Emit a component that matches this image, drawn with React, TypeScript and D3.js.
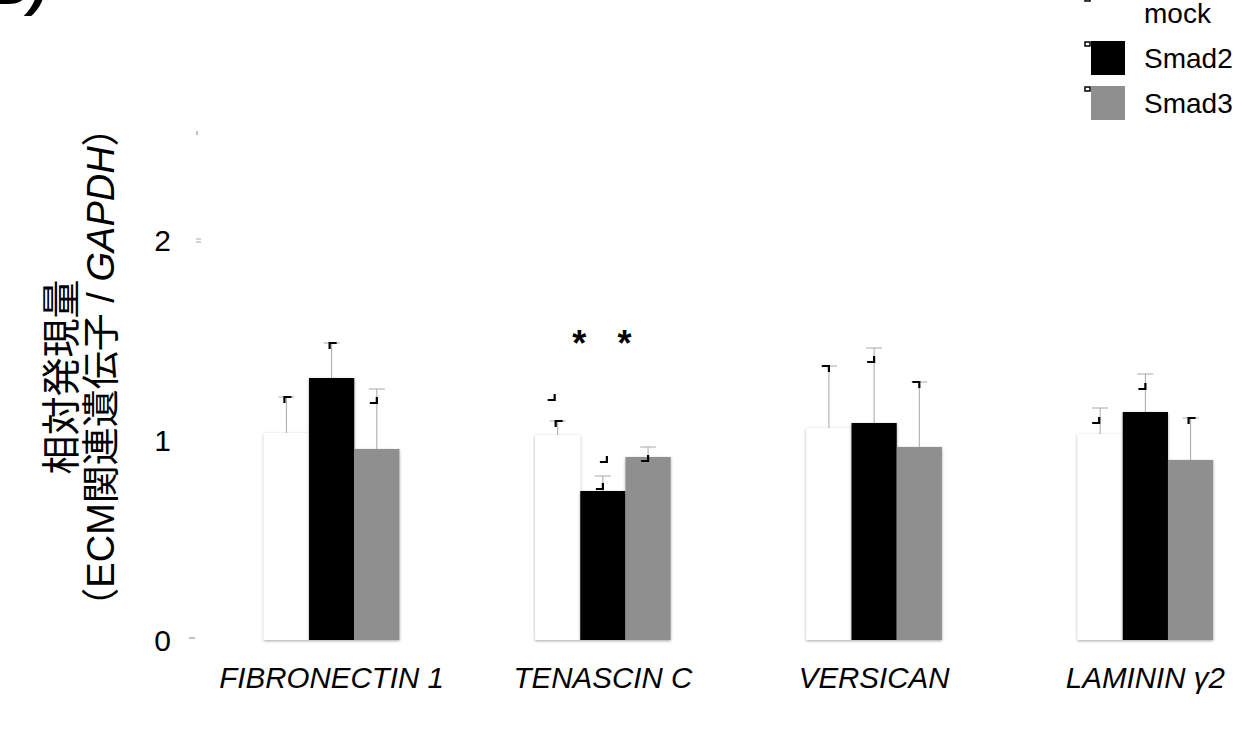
import React from "react";
import * as d3 from "d3";

// Relative expression of ECM-related genes (normalised to GAPDH)
const genes = ["FIBRONECTIN 1", "TENASCIN C", "VERSICAN", "LAMININ γ2"];
const conditions = ["mock", "Smad2", "Smad3"];
const conditionColors = ["#ffffff", "#000000", "#8f8f8f"];

const mockValues = [1.035, 1.025, 1.06, 1.03];
const smad2Values = [1.31, 0.745, 1.085, 1.14];
const smad3Values = [0.955, 0.915, 0.965, 0.9];

const mockErrors = [0.18, 0.07, 0.31, 0.13];
const smad2Errors = [0.175, 0.075, 0.375, 0.19];
const smad3Errors = [0.3, 0.05, 0.325, 0.21];

const yTicks = [0, 1, 2];

// Bars marked as significantly different from mock
const significant = [
  { gene: "TENASCIN C", condition: "Smad2" },
  { gene: "TENASCIN C", condition: "Smad3" },
];

// Small corner glyphs sitting by the error caps: [gene, condition, corner, dx, dy]
const capMarks: [string, string, string, number, number][] = [
  ["FIBRONECTIN 1", "mock", "tl", -2, 0],
  ["FIBRONECTIN 1", "Smad2", "tl", -2, 0],
  ["FIBRONECTIN 1", "Smad3", "br", 0, 14],
  ["TENASCIN C", "mock", "br", -3, -21],
  ["TENASCIN C", "mock", "tl", -2, 0],
  ["TENASCIN C", "Smad2", "br", 4, -14],
  ["TENASCIN C", "Smad2", "br", 0, 13],
  ["TENASCIN C", "Smad3", "br", 0, 14],
  ["VERSICAN", "mock", "tr", 0, 0],
  ["VERSICAN", "Smad2", "br", 0, 14],
  ["VERSICAN", "Smad3", "tr", 0, 0],
  ["LAMININ γ2", "mock", "br", -1, 15],
  ["LAMININ γ2", "Smad2", "br", 0, 15],
  ["LAMININ γ2", "Smad3", "tl", -2, 0],
];

const valuesBy = [mockValues, smad2Values, smad3Values];
const errorsBy = [mockErrors, smad2Errors, smad3Errors];

const W = 1254;
const H = 730;
const FONT = "'Liberation Sans', Arial, 'Noto Sans CJK JP', sans-serif";

export default function App() {
  const x = d3.scaleBand<string>().domain(genes).range([196, 1281]).padding(0);
  const xc = d3
    .scaleBand<string>()
    .domain(conditions)
    .range([0, x.bandwidth()])
    .paddingInner(0)
    .paddingOuter(1.5);
  const y = d3.scaleLinear().domain([0, 2.5]).range([640, 140]);

  const bars = genes.flatMap((g, gi) =>
    conditions.map((c, ci) => ({
      gene: g,
      cond: c,
      ci,
      value: valuesBy[ci][gi],
      err: errorsBy[ci][gi],
    }))
  );

  const barX = (g: string, c: string) => (x(g) as number) + (xc(c) as number);
  const capX = (g: string, c: string) => barX(g, c) + xc.bandwidth() / 2;
  const capY = (g: string, c: string) => {
    const gi = genes.indexOf(g);
    const ci = conditions.indexOf(c);
    return y(valuesBy[ci][gi] + errorsBy[ci][gi]);
  };

  const cornerPath = (cx: number, cy: number, k: string) => {
    if (k === "tl") return `M${cx},${cy + 6}V${cy}H${cx + 7}`;
    if (k === "tr") return `M${cx - 7},${cy}H${cx}V${cy + 6}`;
    return `M${cx - 7},${cy}H${cx}V${cy - 6}`;
  };

  const legendY = d3.scaleBand<string>().domain(conditions).range([-4, 131]).padding(0);
  const sw = 34;

  return (
    <svg
      width={W}
      height={H}
      style={{ position: "absolute", left: 0, top: 0, background: "#fff" }}
      fontFamily={FONT}
    >
      <defs>
        <filter id="barShadow" x="-10%" y="-10%" width="120%" height="120%">
          <feDropShadow dx="0" dy="1" stdDeviation="1.4" floodColor="#000" floodOpacity="0.35" />
        </filter>
      </defs>

      {/* panel letter */}
      <text x={-12} y={4} fontSize={56} fontWeight="bold" fontStyle="italic" fill="#000">
        B)
      </text>

      {/* y axis title */}
      <g transform="translate(61,377) rotate(-90)">
        <text textAnchor="middle" dominantBaseline="central" fontSize={39} fill="#000">
          相対発現量
        </text>
      </g>
      <g transform="translate(101,367) rotate(-90)">
        <text textAnchor="middle" dominantBaseline="central" fontSize={38} fill="#000">
          <tspan>（ECM関連遺伝子 / </tspan>
          <tspan fontStyle="italic">GAPDH</tspan>
          <tspan>）</tspan>
        </text>
      </g>

      {/* y ticks */}
      {yTicks.map((t) => (
        <text
          key={t}
          x={171}
          y={y(t)}
          textAnchor="end"
          dominantBaseline="central"
          fontSize={30}
          fill="#000"
        >
          {t}
        </text>
      ))}
      <line x1={189} x2={195} y1={y(0) - 2} y2={y(0) - 2} stroke="#999" strokeWidth={1.2} />
      <line x1={196} x2={201} y1={y(2) - 1} y2={y(2) - 1} stroke="#aaa" strokeWidth={1} />
      <line x1={196} x2={201} y1={y(2) + 2} y2={y(2) + 2} stroke="#aaa" strokeWidth={1} />
      <line x1={197} x2={197} y1={y(2.5) - 9} y2={y(2.5) - 5} stroke="#999" strokeWidth={1.2} />

      {/* bars */}
      {bars.map((b) => (
        <rect
          key={b.gene + b.cond}
          x={barX(b.gene, b.cond)}
          y={y(b.value)}
          width={xc.bandwidth()}
          height={y(0) - y(b.value)}
          fill={conditionColors[b.ci]}
          filter="url(#barShadow)"
        />
      ))}

      {/* error bars */}
      {bars.map((b) => {
        const cx = capX(b.gene, b.cond);
        const top = y(b.value + b.err);
        return (
          <g key={"e" + b.gene + b.cond} stroke="#a8a8a8" strokeWidth={1}>
            <line x1={cx} x2={cx} y1={y(b.value)} y2={top} />
            <line x1={cx - 8} x2={cx + 8} y1={top} y2={top} />
          </g>
        );
      })}

      {/* corner glyphs */}
      {capMarks.map(([g, c, k, dx, dy], i) => (
        <path
          key={"m" + i}
          d={cornerPath(capX(g, c) + dx, capY(g, c) + dy, k)}
          fill="none"
          stroke="#000"
          strokeWidth={2.2}
        />
      ))}

      {/* significance */}
      {significant.map((s) => (
        <text
          key={"s" + s.condition}
          x={barX(s.gene, s.condition) - 1}
          y={y(1.5) + 16}
          textAnchor="middle"
          fontSize={36}
          fontWeight="bold"
          fill="#000"
        >
          *
        </text>
      ))}

      {/* x labels */}
      {genes.map((g) => (
        <text
          key={"x" + g}
          x={(x(g) as number) + x.bandwidth() / 2}
          y={688}
          textAnchor="middle"
          fontStyle="italic"
          fontSize={29.5}
          fill="#000"
        >
          {g}
        </text>
      ))}

      {/* legend */}
      {conditions.map((c, i) => {
        const top = legendY(c) as number;
        return (
          <g key={"l" + c}>
            <rect x={1091} y={top} width={sw} height={sw} fill={conditionColors[i]} />
            <rect x={1085} y={top + 1} width={5} height={4} fill="#fff" stroke="#000" strokeWidth={1.5} />
            <text x={1144} y={top + sw / 2} dominantBaseline="central" fontSize={28} fill="#000">
              {c}
            </text>
          </g>
        );
      })}
    </svg>
  );
}
